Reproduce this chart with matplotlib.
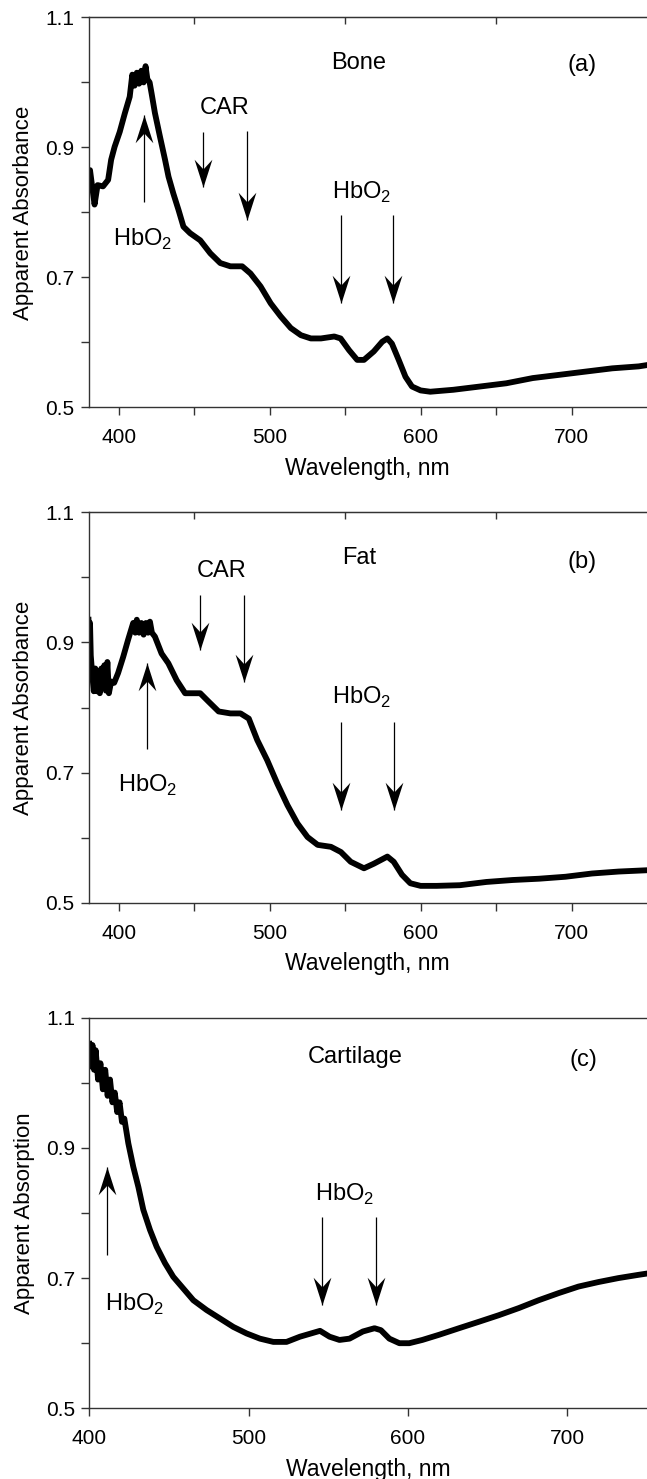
import numpy as np
import matplotlib
matplotlib.use('Agg')
import matplotlib.pyplot as plt
from matplotlib.path import Path

plt.rcParams['font.family'] = ['Liberation Sans', 'DejaVu Sans']
plt.rcParams['mathtext.fontset'] = 'custom'
plt.rcParams['mathtext.rm'] = 'Liberation Sans'

# (a) Bone
wl_bone = [380, 381, 382.4, 384, 386, 389.6, 393, 395, 397.3, 400.7, 404, 407.3, 409, 410.5,
           412, 413.5, 415, 416.5, 417.8, 419, 420.5, 421.8, 424, 427.3, 430.7, 433, 436.2,
           439.6, 442.9, 447.3, 454, 460.7, 467.3, 474, 481.8, 487.3, 494, 500.7, 507.3, 514,
           520.7, 527.3, 534, 542.8, 547, 552.6, 558, 562.5, 569, 574.6, 578, 581, 585.5, 590,
           594.3, 600, 606.4, 621.7, 639.3, 656.8, 674.3, 691.9, 709.4, 727, 744.5, 750]
abs_bone = [0.847, 0.865, 0.84, 0.812, 0.842, 0.84, 0.85, 0.881, 0.901, 0.924, 0.952, 0.978,
            1.012, 0.995, 1.015, 0.998, 1.018, 1.0, 1.025, 1.005, 1.0, 0.983, 0.953, 0.917,
            0.881, 0.855, 0.829, 0.804, 0.778, 0.768, 0.757, 0.737, 0.722, 0.717, 0.717,
            0.706, 0.686, 0.66, 0.64, 0.622, 0.611, 0.606, 0.606, 0.609, 0.606, 0.588, 0.573,
            0.573, 0.586, 0.601, 0.606, 0.598, 0.573, 0.547, 0.532, 0.526, 0.524, 0.527,
            0.532, 0.537, 0.545, 0.55, 0.555, 0.56, 0.563, 0.565]

# (b) Fat
wl_fat = [380, 380.5, 381, 381.5, 382.5, 383.5, 384.5, 385.5, 386.5, 387.5, 388.5, 389.5,
          390.5, 391.5, 392.5, 393.5, 395, 397, 399.6, 403, 406.2, 409.6, 411, 412, 413.5,
          415, 416.5, 418, 419.5, 420.7, 422, 424, 428.4, 432.9, 438.4, 444, 449.6, 454,
          459.6, 466.2, 474, 480.7, 486.2, 491.8, 498.4, 505.1, 511.8, 518.4, 525.1, 531.8,
          540.6, 547.2, 553.7, 562.5, 569, 578, 582.2, 587.7, 593.2, 600, 610.7, 626, 643.6,
          661, 678.6, 696, 713.6, 731.2, 750]
abs_fat = [0.935, 0.9, 0.93, 0.88, 0.85, 0.825, 0.86, 0.825, 0.855, 0.822, 0.86, 0.83, 0.865,
           0.826, 0.87, 0.822, 0.84, 0.838, 0.853, 0.878, 0.904, 0.93, 0.915, 0.935, 0.915,
           0.93, 0.912, 0.93, 0.915, 0.932, 0.915, 0.909, 0.883, 0.868, 0.842, 0.822, 0.822,
           0.822, 0.809, 0.794, 0.791, 0.791, 0.783, 0.75, 0.719, 0.683, 0.65, 0.622, 0.601,
           0.589, 0.586, 0.578, 0.563, 0.553, 0.56, 0.571, 0.563, 0.543, 0.53, 0.526, 0.526,
           0.527, 0.532, 0.535, 0.537, 0.54, 0.545, 0.548, 0.55]

# (c) Cartilage
wl_cart = [400, 401, 402, 403, 404, 405.5, 407, 408.5, 410, 411.5, 413, 414.5, 416, 417.5,
           419, 420.5, 422, 424.5, 427.6, 430.8, 433.9, 438.1, 442.3, 447.5, 452.7, 459,
           465.3, 473.6, 482, 490.4, 498.7, 507.1, 515.5, 523.8, 532.2, 540.6, 544.8, 550.8,
           557, 563.3, 571.7, 579, 583, 588.3, 594.6, 600.8, 609, 619.6, 632, 644.6, 657,
           669.6, 682, 694.6, 707, 719.6, 732, 744.6, 750]
abs_cart = [1.06, 1.025, 1.058, 1.02, 1.05, 1.005, 1.03, 0.99, 1.02, 0.98, 1.005, 0.97, 0.985,
            0.955, 0.97, 0.94, 0.945, 0.907, 0.871, 0.84, 0.805, 0.774, 0.748, 0.723, 0.702,
            0.684, 0.666, 0.651, 0.638, 0.625, 0.615, 0.607, 0.602, 0.602, 0.61, 0.616, 0.619,
            0.61, 0.605, 0.607, 0.618, 0.623, 0.62, 0.607, 0.6, 0.6, 0.605, 0.613, 0.623,
            0.633, 0.643, 0.654, 0.666, 0.677, 0.687, 0.694, 0.7, 0.705, 0.707]

HB = r'HbO$_2$'

# stealth arrow heads, tip at origin
down_head = Path([(0, 0), (-0.32, 1.0), (0, 0.65), (0.32, 1.0), (0, 0)],
                 [Path.MOVETO, Path.LINETO, Path.LINETO, Path.LINETO, Path.CLOSEPOLY])
up_head = Path([(0, 0), (-0.32, -1.0), (0, -0.65), (0.32, -1.0), (0, 0)],
               [Path.MOVETO, Path.LINETO, Path.LINETO, Path.LINETO, Path.CLOSEPOLY])


def arrow(ax, x, y0, y1):
    # vertical arrow from y0 (tail) to y1 (tip)
    ax.plot([x, x], [y0, y1], color='k', lw=0.9, solid_capstyle='butt')
    head = up_head if y1 > y0 else down_head
    ax.plot([x], [y1], marker=head, ms=40, color='k', mew=0)


def setup(ax, xmin, ylabel, minor_x=True):
    ax.set_xlim(xmin, 750)
    ax.set_ylim(0.5, 1.1)
    ax.set_xticks([400, 500, 600, 700])
    ax.set_yticks([0.5, 0.7, 0.9, 1.1])
    ax.set_yticks([0.6, 0.8, 1.0], minor=True)
    if minor_x:
        ax.set_xticks([450, 550, 650], minor=True)
    ax.spines['right'].set_visible(False)
    for s in ['left', 'bottom', 'top']:
        ax.spines[s].set_color('#333333')
        ax.spines[s].set_linewidth(1.0)
    ax.tick_params(which='both', direction='out', length=6, width=1, color='#333333',
                   labelsize=15, top=False)
    ax.tick_params(axis='x', which='both', pad=9)
    ax.tick_params(axis='y', which='both', pad=4)
    if minor_x:
        # inward ticks on the top frame at the half-hundreds
        sec = ax.secondary_xaxis('top')
        sec.set_xticks([450, 550, 650])
        sec.tick_params(direction='in', length=5, width=1, color='#333333',
                        labeltop=False)
        sec.spines['top'].set_color('#333333')
    ax.set_xlabel('Wavelength, nm', fontsize=16.5, labelpad=7)
    ax.set_ylabel(ylabel, fontsize=16, labelpad=8)


fig = plt.figure(figsize=(6.47, 14.79), dpi=100)

ax1 = fig.add_axes([0.1368, 0.7246, 0.8632, 0.2636])
ax2 = fig.add_axes([0.1368, 0.3896, 0.8632, 0.2640])
ax3 = fig.add_axes([0.1380, 0.0478, 0.8620, 0.2641])

setup(ax1, 380, 'Apparent Absorbance')
setup(ax2, 380, 'Apparent Absorbance')
setup(ax3, 400, 'Apparent Absorption', minor_x=False)

ax1.plot(wl_bone, abs_bone, color='k', lw=4.2, solid_joinstyle='round')
ax2.plot(wl_fat, abs_fat, color='k', lw=4.2, solid_joinstyle='round')
ax3.plot(wl_cart, abs_cart, color='k', lw=4.2, solid_joinstyle='round')

fs = 17
# panel a
ax1.text(559, 1.03, 'Bone', fontsize=fs, ha='center', va='center')
ax1.text(707, 1.027, '(a)', fontsize=fs, ha='center', va='center')
ax1.text(470, 0.961, 'CAR', fontsize=fs, ha='center', va='center')
ax1.text(416, 0.758, HB, fontsize=fs, ha='center', va='center')
ax1.text(561, 0.830, HB, fontsize=fs, ha='center', va='center')
arrow(ax1, 416.7, 0.816, 0.950)
arrow(ax1, 456, 0.924, 0.839)
arrow(ax1, 485, 0.925, 0.788)
arrow(ax1, 547, 0.796, 0.661)
arrow(ax1, 582, 0.796, 0.661)

# panel b
ax2.text(559, 1.03, 'Fat', fontsize=fs, ha='center', va='center')
ax2.text(707, 1.024, '(b)', fontsize=fs, ha='center', va='center')
ax2.text(468, 1.010, 'CAR', fontsize=fs, ha='center', va='center')
ax2.text(419, 0.680, HB, fontsize=fs, ha='center', va='center')
ax2.text(561, 0.815, HB, fontsize=fs, ha='center', va='center')
arrow(ax2, 419, 0.736, 0.868)
arrow(ax2, 454, 0.973, 0.889)
arrow(ax2, 483, 0.973, 0.839)
arrow(ax2, 547, 0.778, 0.642)
arrow(ax2, 582.7, 0.778, 0.642)

# panel c
ax3.text(567, 1.04, 'Cartilage', fontsize=fs, ha='center', va='center')
ax3.text(710, 1.035, '(c)', fontsize=fs, ha='center', va='center')
ax3.text(428.6, 0.660, HB, fontsize=fs, ha='center', va='center')
ax3.text(560, 0.829, HB, fontsize=fs, ha='center', va='center')
arrow(ax3, 410.9, 0.735, 0.871)
arrow(ax3, 545.8, 0.794, 0.659)
arrow(ax3, 580.2, 0.794, 0.659)

fig.savefig('out.png', dpi=100)
